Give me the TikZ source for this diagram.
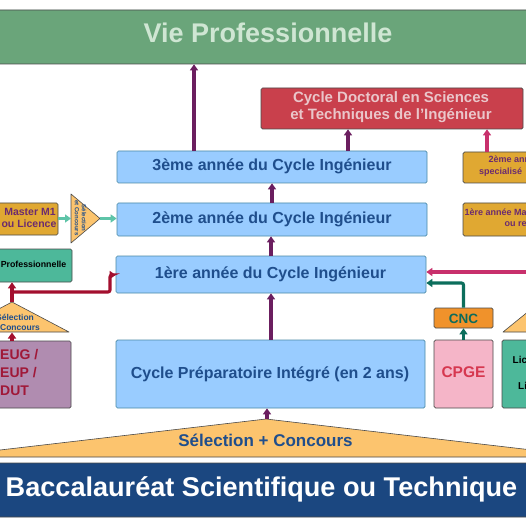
\documentclass[tikz,border=0pt]{standalone}
\usepackage{fontspec}
\setmainfont{Liberation Sans}
\usetikzlibrary{arrows.meta}
\definecolor{vieF}{HTML}{6AA57A}
\definecolor{vieT}{HTML}{CFE6D3}
\definecolor{docF}{HTML}{C9404C}
\definecolor{docT}{HTML}{EAC6CA}
\definecolor{bluF}{HTML}{99CCFF}
\definecolor{bluL}{HTML}{4A8AA5}
\definecolor{bluT}{HTML}{1F4E8C}
\definecolor{bacF}{HTML}{1B4780}
\definecolor{triF}{HTML}{FCC46E}
\definecolor{golF}{HTML}{E0A832}
\definecolor{golT}{HTML}{6B2B6F}
\definecolor{proF}{HTML}{4DB89A}
\definecolor{eugF}{HTML}{B08CB0}
\definecolor{eugT}{HTML}{A01838}
\definecolor{cncF}{HTML}{F0922B}
\definecolor{cncT}{HTML}{0E6B5A}
\definecolor{cpgF}{HTML}{F5B5C8}
\definecolor{cpgT}{HTML}{D63850}
\definecolor{purA}{HTML}{6B1E5F}
\definecolor{pnkA}{HTML}{C8306C}
\definecolor{tlA}{HTML}{5EC4A8}
\definecolor{dtA}{HTML}{0C6E5C}
\definecolor{crA}{HTML}{A30F2E}
\definecolor{edge}{HTML}{4A4A4A}
\newcommand{\fsz}[2]{\fontsize{#1}{#2}\selectfont}
\begin{document}
\begin{tikzpicture}[x=1pt,y=-1pt,
  bx/.style={draw=edge, line width=0.7pt, rounded corners=1.5pt, inner sep=0pt},
  sz/.style 2 args={minimum width=#1pt, minimum height=#2pt},
  tri/.style={fill=triF, draw=edge, line width=0.6pt, line join=round},
  tx/.style={anchor=base, inner sep=0pt, font=\bfseries},
  arr/.style={line width=3.1pt, -{Triangle[length=6pt,width=8pt]}},
  parr/.style={arr, draw=purA},
  pkarr/.style={arr, draw=pnkA},
  tlarr/.style={arr, draw=tlA},
  dtarr/.style={arr, draw=dtA},
  crarr/.style={arr, draw=crA}
]
\useasboundingbox (0,0) rectangle (526,526);
\clip (0,0) rectangle (526,526);
\fill[white] (0,0) rectangle (526,526);

% top
\node[bx, fill=vieF, sz={536}{54}] (vie) at (263,37) {};
\node[tx, text=vieT, font=\bfseries\fsz{27}{32}] (vieL) at (268,43) {Vie Professionnelle};

\node[bx, fill=docF, sz={262}{41}] (doc) at (392,108.5) {};
\node[tx, text=docT, font=\bfseries\fsz{15}{18}] (docL1) at (391,103) {Cycle Doctoral en Sciences};
\node[tx, text=docT, font=\bfseries\fsz{15}{18}] (docL2) at (391,120) {et Techniques de l'Ingénieur};

% central column
\node[bx, fill=bluF, draw=bluL, sz={310}{32}] (y3) at (272,167) {};
\node[tx, text=bluT, font=\bfseries\fsz{16}{19}] (y3L) at (272,171) {3ème année du Cycle Ingénieur};
\node[bx, fill=bluF, draw=bluL, sz={310}{33}] (y2) at (272,219.5) {};
\node[tx, text=bluT, font=\bfseries\fsz{16}{19}] (y2L) at (272,223.5) {2ème année du Cycle Ingénieur};
\node[bx, fill=bluF, draw=bluL, sz={310}{37}] (y1) at (271,274.5) {};
\node[tx, text=bluT, font=\bfseries\fsz{16}{19}] (y1L) at (270.5,278.5) {1ère année du Cycle Ingénieur};
\node[bx, fill=bluF, draw=bluL, sz={309}{68}] (prep) at (270.5,374) {};
\node[tx, text=bluT, font=\bfseries\fsz{16}{19}] (prepL) at (270,378) {Cycle Préparatoire Intégré (en 2 ans)};

% bottom
\draw[tri] (-60,457) -- (266,419) -- (592,457) -- cycle;
\coordinate (tb) at (267,419);
\node[tx, text=bluT, font=\bfseries\fsz{17}{20}] (selL) at (265.5,446) {Sélection + Concours};
\node[bx, fill=bacF, sz={536}{54}] (bac) at (263,490) {};
\node[tx, text=white, font=\bfseries\fsz{27.1}{32}] (bacL) at (261.5,496) {Baccalauréat Scientifique ou Technique};

% left side
\node[bx, fill=golF, sz={68}{32}] (mas) at (24,219) {};
\node[tx, text=golT, font=\bfseries\fsz{10.5}{12}] (masL1) at (30,215.5) {Master M1};
\node[tx, text=golT, font=\bfseries\fsz{10.5}{12}] (masL2) at (29,227.5) {ou Licence};
\draw[tri] (71,194) -- (100,218.5) -- (71,243) -- cycle;
\coordinate (tsl) at (71,218.5);
\coordinate (tsa) at (100,218.5);
\node[rotate=-90, inner sep=0pt, align=center, text=bluT, font=\bfseries\fsz{6}{7}] (tsL) at (80.5,218) {Sélection\\et Concours};

\node[bx, fill=proF, sz={82}{33}] (pro) at (31,265.5) {};
\node[tx, anchor=base east, text=black, font=\bfseries\fsz{8.8}{10}] (proL) at (66.5,267.5) {Professionnelle};

\draw[tri] (-45,332) -- (12,302) -- (69,332) -- cycle;
\coordinate (tl) at (12,302);
\coordinate (cj) at (12,292);
\node[tx, text=bluT, font=\bfseries\fsz{8.5}{10}] (tlL1) at (15,320) {Sélection};
\node[tx, text=bluT, font=\bfseries\fsz{8.5}{10}] (tlL2) at (15,330.5) {et Concours};

\node[bx, fill=eugF, sz={81}{67}] (eug) at (30.5,374.5) {};
\node[tx, anchor=base west, text=eugT, font=\bfseries\fsz{14}{18}] (eugL1) at (0,359) {EUG /};
\node[tx, anchor=base west, text=eugT, font=\bfseries\fsz{14}{18}] (eugL2) at (0,377) {EUP /};
\node[tx, anchor=base west, text=eugT, font=\bfseries\fsz{14}{18}] (eugL3) at (0,395) {DUT};

% right side
\node[bx, fill=golF, sz={97}{31}] (m2) at (511.5,167.5) {};
\node[tx, anchor=base west, text=golT, font=\bfseries\fsz{9}{11}] (m2L1) at (488.5,163) {2ème année};
\node[tx, anchor=base west, text=golT, font=\bfseries\fsz{9}{11}] (m2L2) at (479,174.5) {specialisé};
\node[bx, fill=golF, sz={97}{33}] (m1) at (511.5,219.5) {};
\node[tx, anchor=base west, text=golT, font=\bfseries\fsz{9}{11}] (m1L1) at (464.5,215) {1ère année Master};
\node[tx, anchor=base west, text=golT, font=\bfseries\fsz{9}{11}] (m1L2) at (504.5,226.5) {ou recherche};

\node[bx, fill=cncF, sz={59}{20}] (cnc) at (463.5,318) {};
\node[tx, text=cncT, font=\bfseries\fsz{13.5}{16}] (cncL) at (463.5,323) {CNC};
\node[bx, fill=cpgF, sz={59}{68}] (cpge) at (463.5,374) {};
\node[tx, text=cpgT, font=\bfseries\fsz{15.5}{18}] (cpgeL) at (463.5,377.5) {CPGE};

\draw[tri] (503,332) -- (540,302) -- (577,332) -- cycle;
\node[bx, fill=proF, sz={58}{68}] (lic) at (531,374) {};
\node[tx, anchor=base west, text=black, font=\bfseries\fsz{10}{12}] (licL1) at (512.5,363) {Licence};
\node[tx, anchor=base west, text=black, font=\bfseries\fsz{10}{12}] (licL2) at (518,389) {Licence};

\coordinate (pkin) at (535,272);

% connectors
\draw[parr] (194,0 |- y3.north) -- (194,0 |- vie.south);
\draw[parr] (348,0 |- y3.north) -- (348,0 |- doc.south);
\draw[pkarr] (487,0 |- m2.north) -- (487,0 |- doc.south);
\draw[parr] (272,0 |- y2.north) -- (272,0 |- y3.south);
\draw[parr] (271,0 |- y1.north) -- (271,0 |- y2.south);
\draw[parr] (271,0 |- prep.north) -- (271,0 |- y1.south);
\draw[parr] (tb) -- (tb |- prep.south);

\draw[tlarr] (mas.east |- tsl) -- (tsl);
\draw[tlarr] (tsa) -- (tsa -| y2.west);

\draw[crarr] (tl) -- (tl |- pro.south);
\draw[crarr, rounded corners=2pt] (cj) -| (110,275) -- (110,275 -| y1.west);
\draw[crarr] (12,0 |- eug.north) -- (12,332.5);

\draw[pkarr] (pkin) -- (pkin -| y1.east);
\draw[dtarr, rounded corners=2pt] (cnc.north) |- (y1.east |- 0,283);
\draw[dtarr] (cpge.north) -- (cnc.south);
\end{tikzpicture}
\end{document}
